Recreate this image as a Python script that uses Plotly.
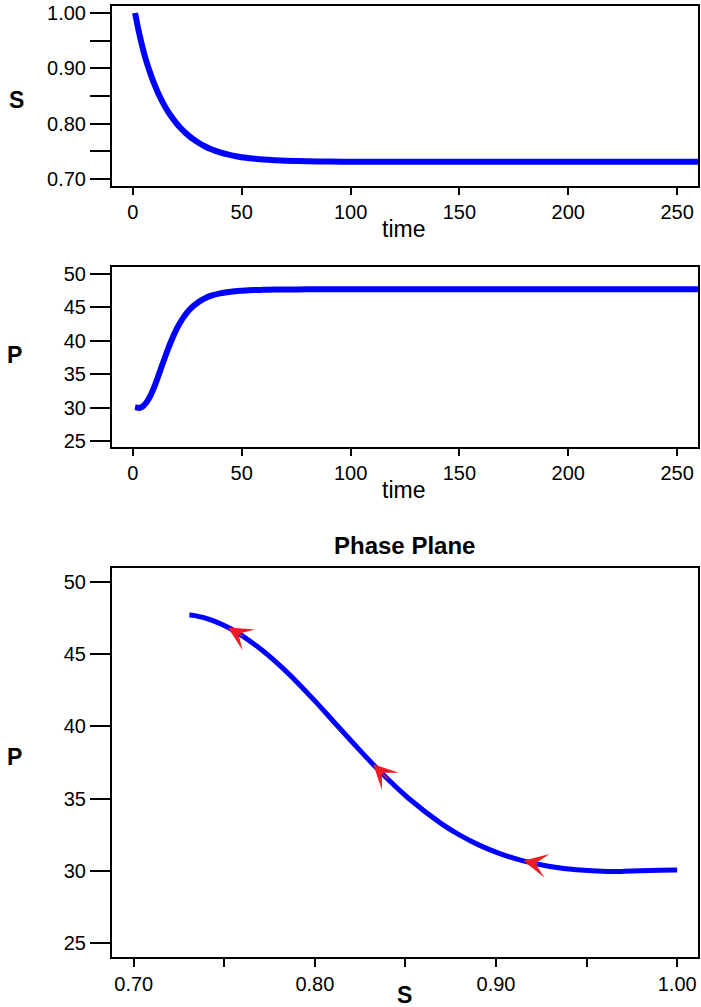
import numpy as np
import plotly.graph_objects as go

# ---- data ----
time = [1, 1.5, 2, 2.5, 3, 4, 5, 6, 7, 8, 9, 10, 12, 14, 16, 18, 20, 22, 24,
        26, 28, 30, 33, 36, 40, 44, 48, 52, 56, 60, 65, 70, 80, 90, 100, 120,
        150, 200, 260]
S = [1.000, 0.990, 0.980, 0.9705, 0.9615, 0.9445, 0.929, 0.915, 0.9025,
     0.891, 0.880, 0.870, 0.8515, 0.8360, 0.8225, 0.8108, 0.8005, 0.7915,
     0.7837, 0.7769, 0.7709, 0.7656, 0.7589, 0.7535, 0.7479, 0.7437, 0.7405,
     0.7381, 0.7363, 0.7349, 0.7337, 0.7328, 0.7317, 0.7312, 0.7310, 0.7308,
     0.7307, 0.7307, 0.7307]
P = [30.06, 30.03, 30.00, 29.96, 29.95, 30.07, 30.32, 30.69, 31.17, 31.76,
     32.47, 33.25, 35.04, 36.87, 38.66, 40.27, 41.70, 42.89, 43.86, 44.64,
     45.27, 45.78, 46.36, 46.76, 47.11, 47.32, 47.46, 47.55, 47.60, 47.64,
     47.67, 47.69, 47.70, 47.71, 47.71, 47.71, 47.71, 47.71, 47.71]

# direction arrows on the phase plane (S position of arrow tips)
arrow_S = [0.752, 0.8322, 0.9151]
arrow_tail_dS = 0.009

time_ticks = [0, 50, 100, 150, 200, 250]
S_ticks = [0.70, 0.75, 0.80, 0.85, 0.90, 0.95, 1.00]
S_ticktext = ["0.70", "", "0.80", "", "0.90", "", "1.00"]
P_ticks = [25, 30, 35, 40, 45, 50]

BLUE = "#0000FF"
RED = "#EC1C24"
FONT = "Liberation Sans, Arial, Helvetica, sans-serif"
TICKF = dict(family=FONT, size=20, color="black")

fig = go.Figure()
fig.add_trace(go.Scatter(x=time, y=S, mode="lines", xaxis="x", yaxis="y",
                         line=dict(color=BLUE, width=6, shape="spline", smoothing=0.8)))
fig.add_trace(go.Scatter(x=time, y=P, mode="lines", xaxis="x2", yaxis="y2",
                         line=dict(color=BLUE, width=6, shape="spline", smoothing=0.8)))
fig.add_trace(go.Scatter(x=S, y=P, mode="lines", xaxis="x3", yaxis="y3",
                         line=dict(color=BLUE, width=5, shape="spline", smoothing=0.8)))

# arrows
S_rev = np.array(S[::-1])
P_rev = np.array(P[::-1])
annotations = []
for s in arrow_S:
    p_tip = float(np.interp(s, S_rev, P_rev))
    s_tail = s + arrow_tail_dS
    p_tail = float(np.interp(s_tail, S_rev, P_rev))
    annotations.append(dict(x=s, y=p_tip, ax=s_tail, ay=p_tail,
                            xref="x3", yref="y3", axref="x3", ayref="y3",
                            showarrow=True, arrowhead=3, arrowsize=2.7,
                            arrowwidth=1.5, arrowcolor=RED, text=""))

# margins: l=112, r=1, t=6, b=50 ; plot height 951 px
def py(ypx):
    return (957 - ypx) / 951.0

def px(xpx):
    return (xpx - 112) / 588.0

lab = dict(family=FONT, size=23, color="black")
labb = dict(family=FONT, size=23, color="black", weight="bold")
for txt, x, y, f in [("S", px(16), py(100), labb),
                     ("P", px(14), py(355), labb),
                     ("P", px(14), py(757), labb),
                     ("time", px(404), py(229), lab),
                     ("time", px(404), py(490), lab),
                     ("Phase Plane", px(405), py(545), dict(family=FONT, size=24, color="black", weight="bold")),
                     ("S", px(405), py(995), labb)]:
    annotations.append(dict(text=txt, x=x, y=y, xref="paper", yref="paper",
                            xanchor="center", yanchor="middle", showarrow=False, font=f))

axis_common = dict(showline=True, linecolor="black", linewidth=2, mirror=True,
                   ticks="outside", tickcolor="black", tickwidth=1.5,
                   showgrid=False, zeroline=False, tickfont=TICKF)

fig.update_layout(
    width=701, height=1007,
    margin=dict(l=112, r=1, t=6, b=50),
    paper_bgcolor="white", plot_bgcolor="white",
    showlegend=False,
    xaxis=dict(axis_common, domain=[0, 1], anchor="y", range=[-9.6, 259.6],
               tickvals=time_ticks, ticklen=7),
    yaxis=dict(axis_common, domain=[py(186), 1], anchor="x", range=[0.687, 1.0127],
               tickvals=S_ticks, ticktext=S_ticktext, ticklen=20),
    xaxis2=dict(axis_common, domain=[0, 1], anchor="y2", range=[-9.6, 259.6],
                tickvals=time_ticks, ticklen=7),
    yaxis2=dict(axis_common, domain=[py(447), py(267)], anchor="x2", range=[24.1, 51.05],
                tickvals=P_ticks, ticklen=20),
    xaxis3=dict(axis_common, domain=[0, 1], anchor="y3", range=[0.688, 1.0115],
                tickvals=S_ticks, ticktext=S_ticktext, ticklen=8),
    yaxis3=dict(axis_common, domain=[0, py(568)], anchor="x3", range=[24.03, 50.97],
                tickvals=P_ticks, ticklen=20),
    annotations=annotations,
)

fig.write_html("out.html", config={"displayModeBar": False},
               post_script="document.body.style.margin='0px';")
